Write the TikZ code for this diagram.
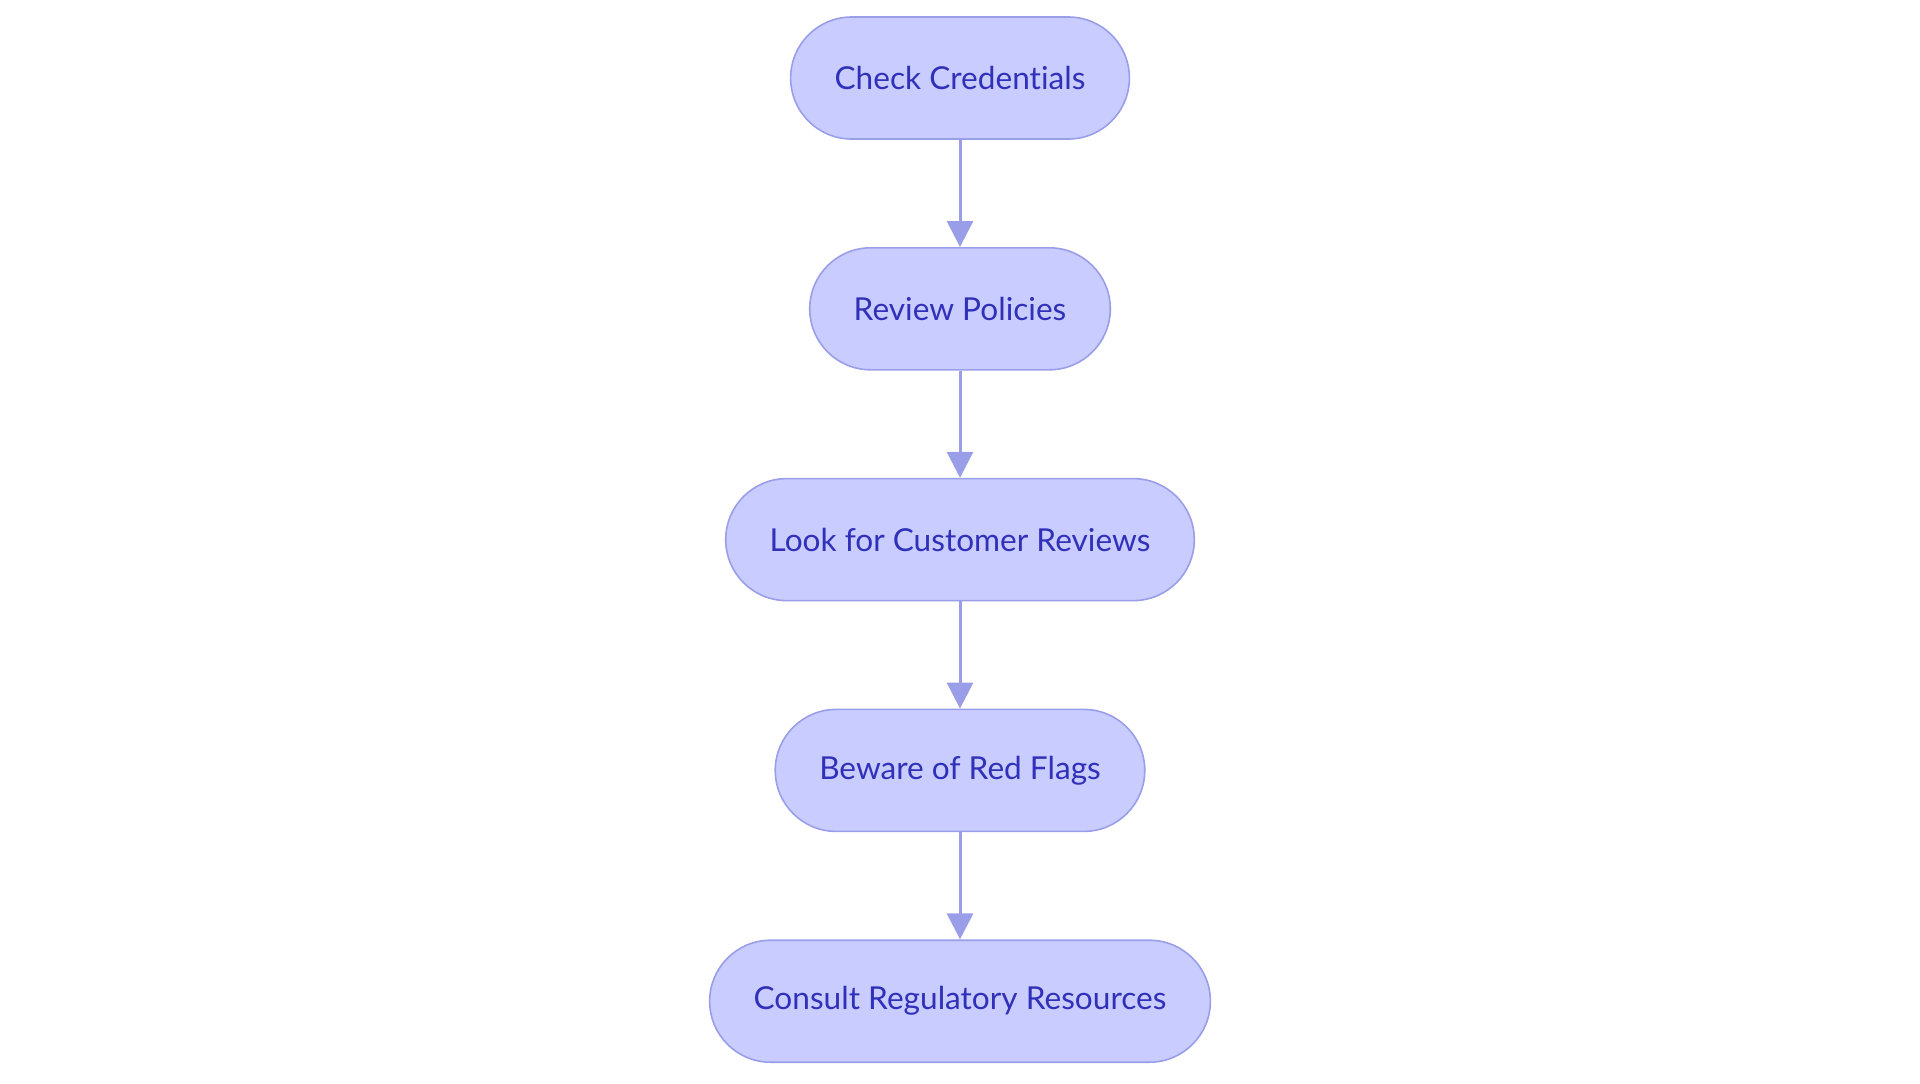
\documentclass[tikz,border=0pt]{standalone}
\usepackage{fontspec}
\setmainfont{Lato}[Ligatures=NoCommon]
\usetikzlibrary{arrows.meta, positioning}
\definecolor{stepfill}{HTML}{C8CCFF}
\definecolor{stepline}{HTML}{9A9EE8}
\definecolor{steptext}{HTML}{3030B8}

\begin{document}
\begin{tikzpicture}[
    stepbox/.style={draw=stepline, line width=0.8pt, fill=stepfill, text=steptext,
        rounded corners=30.5pt, minimum height=61pt, inner xsep=22pt,
        font=\fontsize{15.8pt}{18pt}\selectfont},
    flow/.style={-{Triangle[width=13pt,length=13pt]}, line width=1.5pt, color=stepline},
    node distance=53.6pt
]
    % Page frame
    \useasboundingbox (0,0) rectangle (960pt,-541.5pt);

    % Steps
    \node[stepbox] (credentials) at (480pt,-39pt) {Check Credentials};
    \node[stepbox, below=of credentials] (policies) {Review Policies};
    \node[stepbox, below=of policies] (reviews) {Look for Customer Reviews};
    \node[stepbox, below=of reviews] (redflags) {Beware of Red Flags};
    \node[stepbox, below=of redflags] (resources) {Consult Regulatory Resources};

    % Arrows
    \draw[flow] (credentials) -- (policies);
    \draw[flow] (policies) -- (reviews);
    \draw[flow] (reviews) -- (redflags);
    \draw[flow] (redflags) -- (resources);
\end{tikzpicture}
\end{document}
